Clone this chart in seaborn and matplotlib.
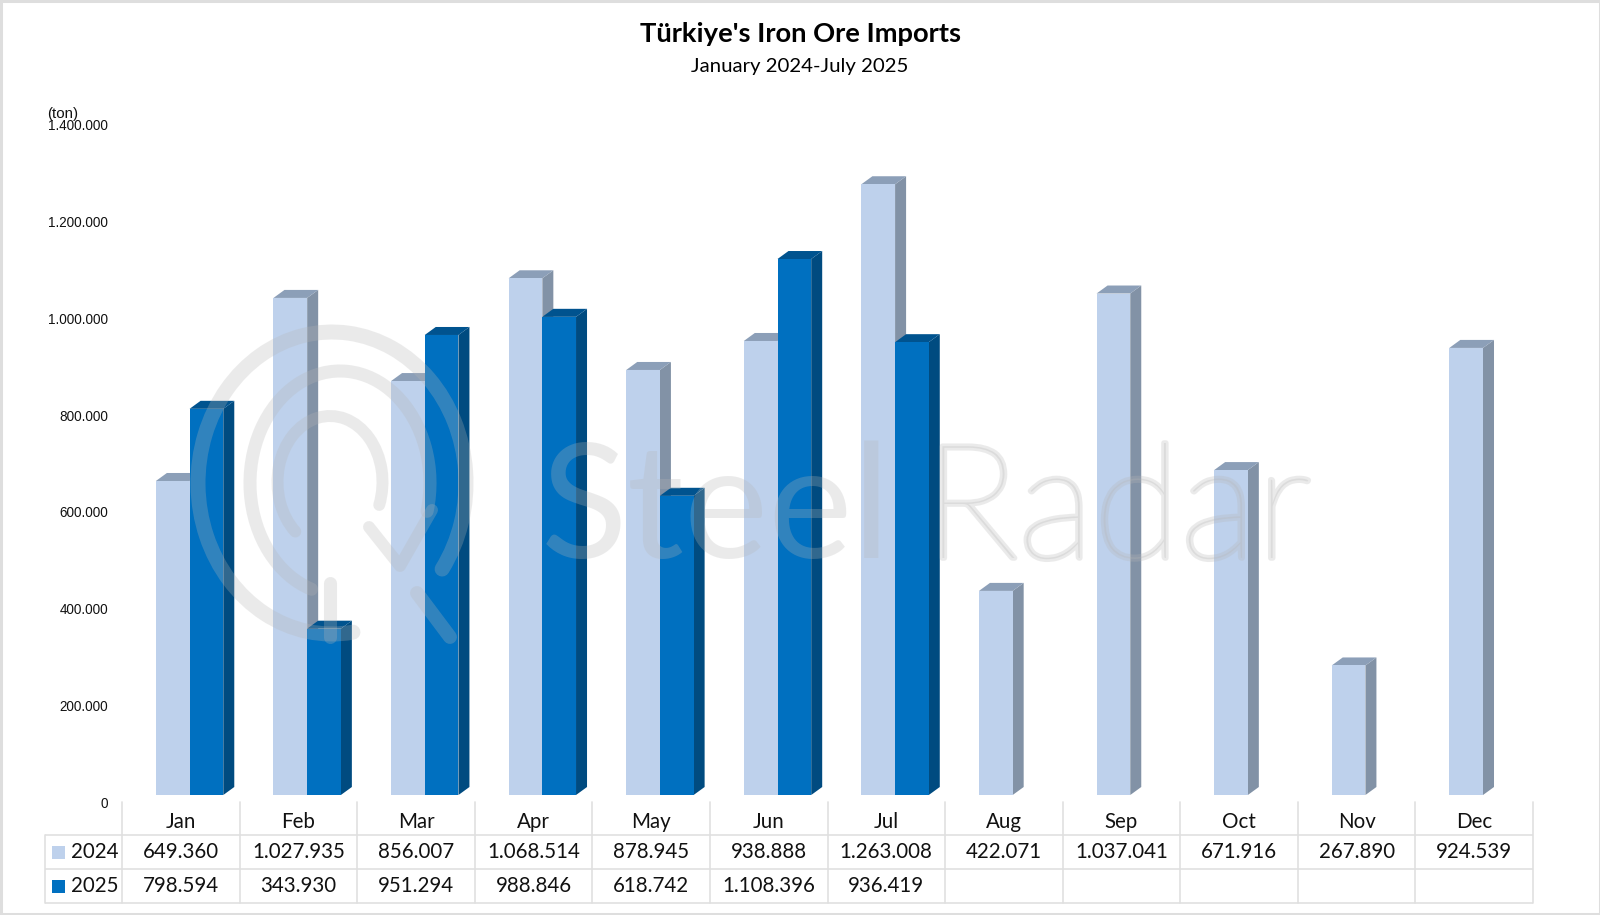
import numpy as np
import pandas as pd
import matplotlib
matplotlib.use("Agg")
import matplotlib.pyplot as plt
import matplotlib.patheffects as pe
from matplotlib.patches import Arc, Polygon, Rectangle
from matplotlib.ticker import FuncFormatter
from matplotlib.transforms import ScaledTranslation
import seaborn as sns

months = ["Jan", "Feb", "Mar", "Apr", "May", "Jun", "Jul", "Aug", "Sep", "Oct", "Nov", "Dec"]
imports_2024 = [649360, 1027935, 856007, 1068514, 878945, 938888, 1263008, 422071, 1037041, 671916, 267890, 924539]
imports_2025 = [798594, 343930, 951294, 988846, 618742, 1108396, 936419, np.nan, np.nan, np.nan, np.nan, np.nan]
years = ["2024", "2025"]
y_ticks = [0, 200000, 400000, 600000, 800000, 1000000, 1200000, 1400000]

FRONT = {"2024": "#BED1EC", "2025": "#0070C0"}
SIDE = {"2024": "#8292A6", "2025": "#004B80"}
TOP = {"2024": "#8C9FB8", "2025": "#00538F"}
INK = "#111111"
GRID = "#E0E0E0"
WATERMARK = "#B6B6B6"
WATERMARK_ALPHA = 0.275

# layout in pixels of the 1600x915 picture
TABLE_LEFT, TABLE_X0, TABLE_X1 = 44.7, 122.0, 1533.0
BAR_SHIFT = 8.8
BASE_Y, TOP_Y = 795.0, 118.0
DEPTH_X, DEPTH_Y = 11.0, 8.0


def dotted(v, pos=None):
    return f"{int(v):,}".replace(",", ".")


df = pd.DataFrame({
    "month": months * 2,
    "tons": imports_2024 + imports_2025,
    "year": [years[0]] * 12 + [years[1]] * 12,
})

sns.set_theme(style="white")
plt.rcParams["font.family"] = ["Lato", "DejaVu Sans"]

fig = plt.figure(figsize=(16, 9.15), dpi=100, facecolor="white")
ax = fig.add_axes([(TABLE_X0 + BAR_SHIFT) / 1600, 1 - BASE_Y / 915, (TABLE_X1 - TABLE_X0) / 1600, (BASE_Y - TOP_Y) / 915])
ax.patch.set_alpha(0)

sns.barplot(data=df, x="month", y="tons", hue="year", hue_order=years, palette=FRONT,
            width=0.573, gap=0, saturation=1, legend=False, linewidth=0, ax=ax)
ax.set_xlim(-0.5, 11.5)
ax.set_ylim(0, 1400000)
ax.set_xlabel("")
ax.set_ylabel("")
ax.set_xticks([])
ax.set_yticks(y_ticks)
ax.yaxis.set_major_formatter(FuncFormatter(dotted))
ax.tick_params(axis="y", length=0, pad=16.4, labelsize=9.75, labelcolor=INK)
sns.despine(ax=ax, left=True, bottom=True)

# tick labels sit a bit lower than the bar floor, like the 3D chart they come from
offset = ScaledTranslation(0, -7 / 100, fig.dpi_scale_trans)
for label in ax.get_yticklabels():
    label.set_transform(label.get_transform() + offset)
    label.set_family(["Liberation Sans", "DejaVu Sans"])

# fake 3D faces built from the bars seaborn drew
dx = DEPTH_X * 12 / (TABLE_X1 - TABLE_X0)
dy = DEPTH_Y * 1400000 / (BASE_Y - TOP_Y)
for i, (container, year) in enumerate(zip(ax.containers, years)):
    base_z = 2 + i * 2
    for bar in container:
        h = bar.get_height()
        if np.isnan(h):
            continue
        x0, x1 = bar.get_x(), bar.get_x() + bar.get_width()
        bar.set_zorder(base_z + 1)
        ax.add_patch(Polygon([(x1, 0), (x1 + dx, dy), (x1 + dx, h + dy), (x1, h)],
                             fc=SIDE[year], ec="none", zorder=base_z, clip_on=False))
        ax.add_patch(Polygon([(x0, h), (x0 + dx, h + dy), (x1 + dx, h + dy), (x1, h)],
                             fc=TOP[year], ec="none", zorder=base_z, clip_on=False))

# pixel overlay for the watermark, table and titles
over = fig.add_axes([0, 0, 1, 1], zorder=5)
over.set_xlim(0, 1600)
over.set_ylim(915, 0)
over.axis("off")
over.patch.set_alpha(0)

# y runs downward here, so arc angles grow clockwise on screen
mark = dict(color=WATERMARK, alpha=WATERMARK_ALPHA, capstyle="round")
over.add_patch(Arc((332, 483), 268, 302, theta1=82, theta2=398, lw=10.8, **mark))
over.add_patch(Arc((340, 483), 180, 224, theta1=105, theta2=378, lw=9.4, **mark))
over.add_patch(Arc((330, 482), 105, 132, theta1=125, theta2=385, lw=8.6, **mark))
line = dict(color=WATERMARK, alpha=WATERMARK_ALPHA, solid_capstyle="round", solid_joinstyle="round")
over.plot([417, 450], [593, 637], lw=10, **line)
over.plot([330, 330], [583, 637], lw=9.4, **line)
over.plot([369, 400, 432], [527, 566, 510], lw=8.6, **line)
over.text(541, 558, "Steel", fontsize=115, color=WATERMARK, alpha=WATERMARK_ALPHA, ha="left", va="baseline")
# the installed light weight is a hairline, so thicken it with a stroke
over.text(1311, 558, "Radar", fontsize=115, fontweight="light", color=WATERMARK, alpha=WATERMARK_ALPHA,
          ha="right", va="baseline",
          path_effects=[pe.Stroke(linewidth=4, foreground=WATERMARK, alpha=WATERMARK_ALPHA)])

# data table under the bars
col_w = (TABLE_X1 - TABLE_X0) / len(months)
row_lines = [835.0, 868.7, 903.0]
for y in row_lines:
    over.plot([TABLE_LEFT, TABLE_X1], [y, y], color=GRID, lw=1.2, solid_capstyle="butt")
over.plot([TABLE_LEFT, TABLE_LEFT], [row_lines[0], row_lines[-1]], color=GRID, lw=1.2)
for k in range(len(months) + 1):
    xk = TABLE_X0 + k * col_w
    over.plot([xk, xk], [802, row_lines[-1]], color=GRID, lw=1.2)

CELL = 14.8
for k, m in enumerate(months):
    xc = TABLE_X0 + (k + 0.5) * col_w
    over.text(xc, 822, m, fontsize=CELL, color=INK, ha="center", va="center")
for series, year, yc in zip([imports_2024, imports_2025], years, [852, 886]):
    over.add_patch(Rectangle((52, yc - 6.5), 13, 13, fc=FRONT[year], ec="none"))
    over.text(71.5, yc, year, fontsize=CELL, color=INK, ha="left", va="center")
    for k, v in enumerate(series):
        if np.isnan(v):
            continue
        over.text(TABLE_X0 + (k + 0.5) * col_w, yc, dotted(v), fontsize=CELL, color=INK, ha="center", va="center")

over.text(800, 34.5, "Türkiye's Iron Ore Imports", fontsize=19.7, fontweight="bold", color="black", ha="center", va="center")
over.text(800, 66.5, "January 2024-July 2025", fontsize=14.7, color="black", ha="center", va="center")
over.text(47, 114, "(ton)", fontsize=10.8, color=INK, ha="left", va="center", family=["Liberation Sans", "DejaVu Sans"])

# thin frame round the picture
over.add_patch(Rectangle((0.5, 0.5), 1599, 913.5, fc="none", ec="#DEDEDE", lw=2.2))

fig.savefig("out.png", dpi=100)
plt.close(fig)
